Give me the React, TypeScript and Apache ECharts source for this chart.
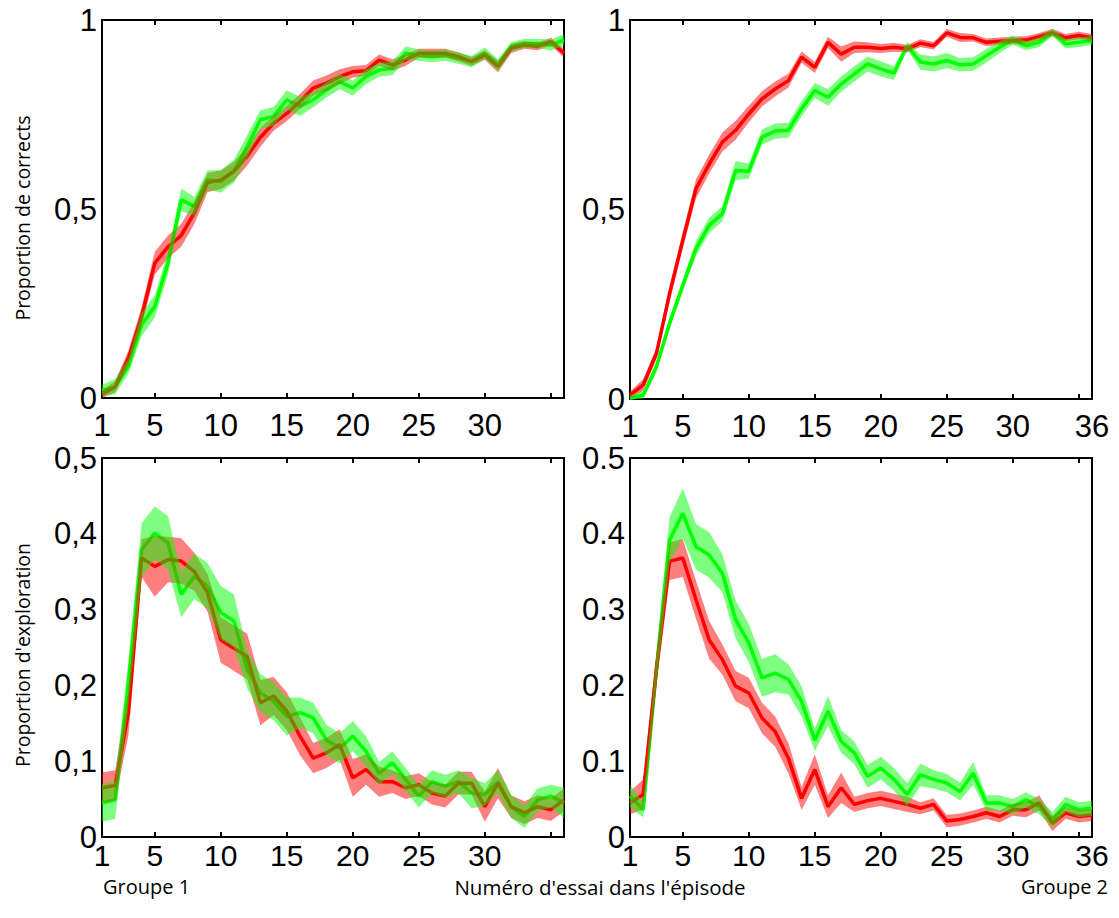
import React, { useEffect, useRef } from "react";
import * as echarts from "echarts";

// Trial numbers (categories)
const trials = ["1","2","3","4","5","6","7","8","9","10","11","12","13","14","15","16","17","18","19","20","21","22","23","24","25","26","27","28","29","30","31","32","33","34","35","36"];
const tickTrials = ["1", "5", "10", "15", "20", "25", "30", "35"];
const labelTrialsLeft = ["1", "5", "10", "15", "20", "25", "30"];
const labelTrialsRight = ["1", "5", "10", "15", "20", "25", "30", "36"];

// Groupe 1 – proportion de corrects
const g1CorrRed = [0.01,0.03,0.105,0.215,0.357,0.40,0.43,0.49,0.57,0.577,0.60,0.64,0.69,0.727,0.753,0.784,0.82,0.833,0.85,0.863,0.866,0.894,0.881,0.894,0.912,0.912,0.912,0.903,0.89,0.907,0.877,0.925,0.934,0.93,0.943,0.912];
const g1CorrRedErr = [0.01,0.015,0.02,0.025,0.03,0.03,0.03,0.03,0.025,0.025,0.025,0.025,0.025,0.02,0.02,0.02,0.02,0.02,0.02,0.015,0.015,0.015,0.015,0.015,0.012,0.012,0.012,0.012,0.012,0.012,0.015,0.012,0.01,0.01,0.01,0.012];
const g1CorrGreen = [0.02,0.03,0.084,0.194,0.242,0.357,0.524,0.507,0.577,0.573,0.60,0.665,0.736,0.745,0.789,0.771,0.789,0.815,0.837,0.82,0.85,0.868,0.872,0.912,0.907,0.903,0.907,0.899,0.89,0.912,0.881,0.93,0.938,0.938,0.934,0.947];
const g1CorrGreenErr = [0.015,0.02,0.02,0.03,0.03,0.03,0.03,0.025,0.025,0.03,0.03,0.03,0.025,0.025,0.025,0.025,0.02,0.02,0.02,0.02,0.02,0.018,0.018,0.018,0.015,0.015,0.015,0.015,0.015,0.015,0.015,0.012,0.012,0.012,0.015,0.015];

// Groupe 2 – proportion de corrects
const g2CorrRed = [0.01,0.037,0.12,0.278,0.419,0.555,0.62,0.678,0.709,0.752,0.792,0.818,0.84,0.902,0.875,0.941,0.91,0.928,0.928,0.925,0.928,0.924,0.939,0.932,0.966,0.954,0.953,0.941,0.944,0.946,0.947,0.956,0.967,0.953,0.959,0.953];
const g2CorrRedErr = [0.01,0.015,0.015,0.02,0.02,0.025,0.025,0.025,0.025,0.022,0.02,0.02,0.018,0.015,0.015,0.015,0.02,0.015,0.013,0.012,0.012,0.01,0.01,0.01,0.01,0.012,0.01,0.01,0.01,0.01,0.01,0.01,0.01,0.01,0.01,0.01];
const g2CorrGreen = [0.002,0.01,0.085,0.2,0.3,0.397,0.458,0.489,0.603,0.601,0.691,0.707,0.709,0.766,0.814,0.796,0.831,0.858,0.884,0.871,0.86,0.932,0.889,0.884,0.893,0.882,0.884,0.906,0.928,0.947,0.932,0.941,0.967,0.937,0.941,0.946];
const g2CorrGreenErr = [0.005,0.01,0.015,0.015,0.015,0.02,0.02,0.02,0.025,0.02,0.02,0.02,0.02,0.02,0.02,0.022,0.02,0.02,0.02,0.02,0.018,0.01,0.02,0.02,0.02,0.018,0.018,0.018,0.015,0.012,0.012,0.012,0.01,0.012,0.012,0.012];

// Groupe 1 – proportion d'exploration
const g1ExplRed = [0.065,0.068,0.164,0.368,0.357,0.366,0.364,0.35,0.322,0.26,0.249,0.238,0.177,0.186,0.166,0.133,0.104,0.111,0.122,0.078,0.089,0.073,0.073,0.065,0.069,0.058,0.054,0.071,0.071,0.040,0.071,0.040,0.032,0.040,0.036,0.049];
const g1ExplRedErr = [0.02,0.02,0.03,0.025,0.04,0.03,0.03,0.025,0.025,0.03,0.03,0.03,0.03,0.025,0.025,0.025,0.02,0.02,0.02,0.025,0.02,0.02,0.015,0.015,0.015,0.015,0.015,0.015,0.015,0.02,0.02,0.015,0.015,0.015,0.015,0.015];
const g1ExplGreen = [0.045,0.049,0.203,0.379,0.401,0.388,0.32,0.344,0.331,0.296,0.285,0.221,0.19,0.179,0.159,0.164,0.157,0.128,0.117,0.133,0.113,0.084,0.098,0.076,0.054,0.073,0.067,0.073,0.058,0.056,0.073,0.040,0.027,0.049,0.054,0.045];
const g1ExplGreenErr = [0.025,0.025,0.03,0.035,0.035,0.035,0.03,0.03,0.03,0.035,0.035,0.025,0.025,0.025,0.025,0.02,0.02,0.02,0.02,0.02,0.02,0.015,0.015,0.015,0.015,0.015,0.015,0.015,0.02,0.015,0.015,0.015,0.015,0.015,0.015,0.02];

// Groupe 2 – proportion d'exploration
const g2ExplRed = [0.045,0.056,0.221,0.364,0.368,0.313,0.26,0.234,0.199,0.19,0.157,0.139,0.104,0.051,0.089,0.040,0.065,0.043,0.048,0.051,0.047,0.043,0.038,0.043,0.021,0.023,0.027,0.032,0.027,0.036,0.036,0.045,0.018,0.032,0.027,0.029];
const g2ExplRedErr = [0.015,0.02,0.02,0.025,0.025,0.025,0.025,0.02,0.02,0.02,0.02,0.02,0.02,0.015,0.02,0.015,0.02,0.01,0.01,0.01,0.01,0.01,0.008,0.008,0.008,0.008,0.008,0.008,0.008,0.008,0.01,0.01,0.01,0.008,0.008,0.008];
const g2ExplGreen = [0.054,0.036,0.221,0.392,0.427,0.383,0.372,0.348,0.287,0.256,0.210,0.216,0.208,0.179,0.128,0.166,0.126,0.111,0.080,0.091,0.076,0.056,0.082,0.076,0.071,0.060,0.084,0.045,0.045,0.040,0.049,0.040,0.023,0.043,0.036,0.038];
const g2ExplGreenErr = [0.015,0.01,0.02,0.03,0.033,0.03,0.03,0.025,0.025,0.025,0.025,0.025,0.02,0.02,0.015,0.02,0.015,0.015,0.015,0.015,0.015,0.015,0.015,0.012,0.012,0.012,0.015,0.01,0.01,0.01,0.01,0.01,0.01,0.01,0.01,0.01];

const RED = "#ff0000";
const GREEN = "#00ff00";
const RED_BAND = "rgba(255,0,0,0.5)";
const GREEN_BAND = "rgba(0,255,0,0.5)";
const TICK_FONT = "'Liberation Sans', Arial, Helvetica, sans-serif";
const TITLE_FONT = "'Open Sans', 'Noto Sans', sans-serif";

type Panel = {
  grid: { left: number; top: number; width: number; height: number };
  yMax: number;
  yLabel: (v: number) => string;
  xLabels: string[];
  red: number[];
  redErr: number[];
  green: number[];
  greenErr: number[];
};

const fmtTop = (v: number) => {
  const k = Math.round(v * 10);
  if (k === 0) return "0";
  if (k === 5) return "0,5";
  if (k === 10) return "1";
  return "";
};
const fmtComma = (v: number) => {
  const k = Math.round(v * 10);
  return k === 0 ? "0" : "0," + k;
};
const fmtDot = (v: number) => {
  const k = Math.round(v * 10);
  return k === 0 ? "0" : "0." + k;
};

const panels: Panel[] = [
  { grid: { left: 102, top: 20, width: 462, height: 378 }, yMax: 1, yLabel: fmtTop, xLabels: labelTrialsLeft, red: g1CorrRed, redErr: g1CorrRedErr, green: g1CorrGreen, greenErr: g1CorrGreenErr },
  { grid: { left: 630, top: 20, width: 462, height: 379 }, yMax: 1, yLabel: fmtTop, xLabels: labelTrialsRight, red: g2CorrRed, redErr: g2CorrRedErr, green: g2CorrGreen, greenErr: g2CorrGreenErr },
  { grid: { left: 102, top: 458, width: 462, height: 379 }, yMax: 0.5, yLabel: fmtComma, xLabels: labelTrialsLeft, red: g1ExplRed, redErr: g1ExplRedErr, green: g1ExplGreen, greenErr: g1ExplGreenErr },
  { grid: { left: 630, top: 458, width: 462, height: 379 }, yMax: 0.5, yLabel: fmtDot, xLabels: labelTrialsRight, red: g2ExplRed, redErr: g2ExplRedErr, green: g2ExplGreen, greenErr: g2ExplGreenErr },
];

function buildOption() {
  const grid: any[] = [];
  const xAxis: any[] = [];
  const yAxis: any[] = [];
  const series: any[] = [];
  const axisLine = { show: true, onZero: false, lineStyle: { color: "#000", width: 2 } };
  const tickStyle = { inside: true, length: 5, lineStyle: { color: "#000", width: 2 } };

  panels.forEach((p, g) => {
    grid.push({ ...p.grid, containLabel: false });
    const tickInterval = (_i: number, v: string) => tickTrials.indexOf(v) >= 0;
    const top = g < 2;
    xAxis.push({
      type: "category", gridIndex: g, data: trials, boundaryGap: false, position: "bottom",
      axisLine, axisTick: { ...tickStyle, interval: tickInterval },
      axisLabel: {
        interval: (_i: number, v: string) => p.xLabels.indexOf(v) >= 0,
        fontFamily: TICK_FONT, fontSize: top ? 31 : 30, lineHeight: top ? 31 : 30, color: "#000", margin: top ? 12 : 3,
      },
      splitLine: { show: false },
    });
    xAxis.push({
      type: "category", gridIndex: g, data: trials, boundaryGap: false, position: "top",
      axisLine, axisTick: { ...tickStyle, interval: tickInterval },
      axisLabel: { show: false }, splitLine: { show: false },
    });
    yAxis.push({
      type: "value", gridIndex: g, min: 0, max: p.yMax, interval: 0.1, position: "left",
      axisLine, axisTick: tickStyle,
      axisLabel: { formatter: p.yLabel, fontFamily: TICK_FONT, fontSize: 31, color: "#000", margin: 5 },
      splitLine: { show: false },
    });
    yAxis.push({
      type: "value", gridIndex: g, min: 0, max: p.yMax, interval: 0.1, position: "right",
      axisLine, axisTick: tickStyle, axisLabel: { show: false }, splitLine: { show: false },
    });

    const xi = 2 * g;
    const yi = 2 * g;
    const lineSeries = (name: string, data: number[], color: string, z: number) => ({
      name, type: "line", xAxisIndex: xi, yAxisIndex: yi, data, symbol: "none", silent: true,
      lineStyle: { color, width: 3.5 }, z,
    });
    const bandSeries = (key: string, mean: number[], err: number[], fill: string, z: number) => {
      const lo = mean.map((m, i) => m - err[i]);
      const span = err.map((e) => 2 * e);
      return [
        { name: key + "lo", type: "line", xAxisIndex: xi, yAxisIndex: yi, data: lo, stack: key, symbol: "none", silent: true, lineStyle: { opacity: 0 }, z },
        { name: key + "hi", type: "line", xAxisIndex: xi, yAxisIndex: yi, data: span, stack: key, symbol: "none", silent: true, lineStyle: { opacity: 0 }, areaStyle: { color: fill, opacity: 1 }, z },
      ];
    };
    series.push(lineSeries("green" + g, p.green, GREEN, 2));
    series.push(lineSeries("red" + g, p.red, RED, 2));
    series.push(...bandSeries("rb" + g, p.red, p.redErr, RED_BAND, 3));
    series.push(...bandSeries("gb" + g, p.green, p.greenErr, GREEN_BAND, 4));
  });

  const yTitle = { fontFamily: TITLE_FONT, fontSize: 19.5, fill: "#000" };
  const xTitle = { fontFamily: TITLE_FONT, fontSize: 20, fill: "#000" };
  const graphic: any[] = [
    { type: "text", x: 22, y: 218, rotation: Math.PI / 2, style: { ...yTitle, text: "Proportion de corrects", align: "center", verticalAlign: "middle" } },
    { type: "text", x: 22, y: 655, rotation: Math.PI / 2, style: { ...yTitle, text: "Proportion d'exploration", align: "center", verticalAlign: "middle" } },
    { type: "text", x: 103, y: 886.5, style: { ...xTitle, text: "Groupe 1", align: "left", verticalAlign: "middle" } },
    { type: "text", x: 600, y: 887, style: { ...xTitle, fontSize: 20.5, text: "Numéro d'essai dans l'épisode", align: "center", verticalAlign: "middle" } },
    { type: "text", x: 1108, y: 886.5, style: { ...xTitle, text: "Groupe 2", align: "right", verticalAlign: "middle" } },
  ];

  return { animation: false, backgroundColor: "#fff", grid, xAxis, yAxis, series, graphic };
}

export default function App() {
  const ref = useRef<HTMLDivElement>(null);
  useEffect(() => {
    if (!ref.current) return;
    const chart = echarts.init(ref.current, undefined, { renderer: "svg" });
    chart.setOption(buildOption() as any);
    return () => chart.dispose();
  }, []);
  return (
    <div
      ref={ref}
      style={{ position: "absolute", left: 0, top: 0, width: 1119, height: 918, background: "#fff" }}
    />
  );
}
